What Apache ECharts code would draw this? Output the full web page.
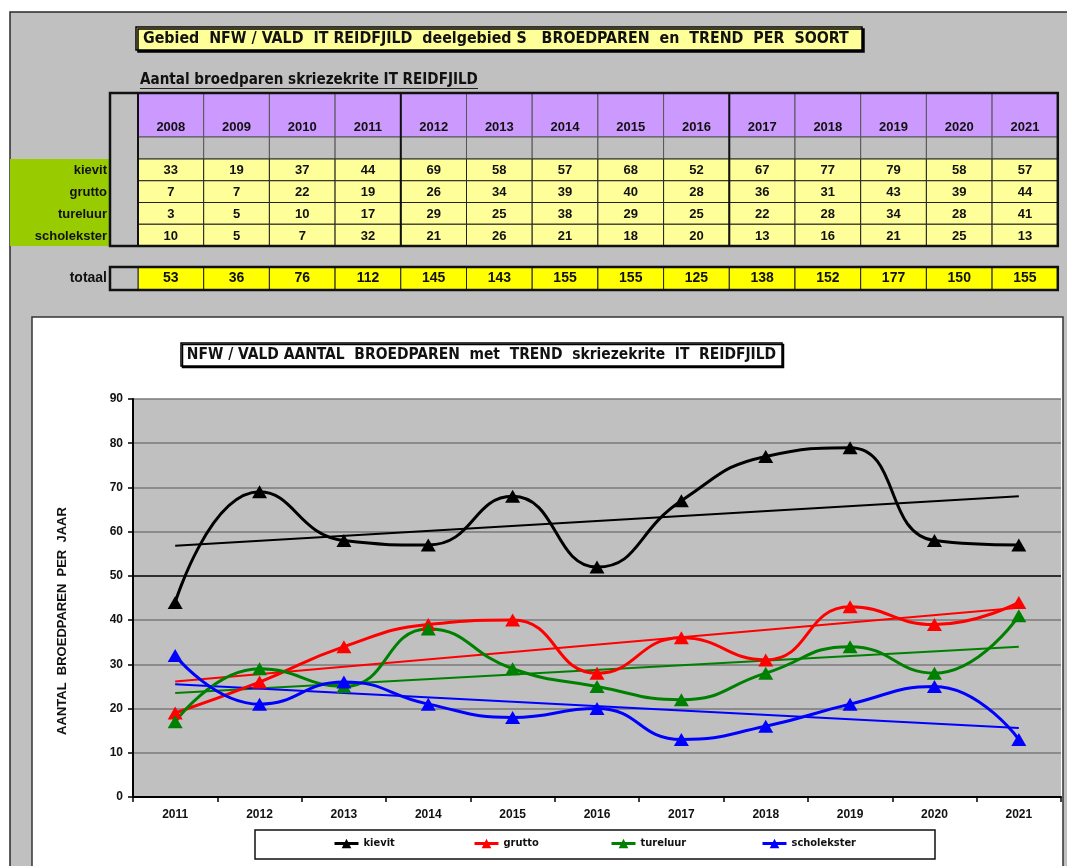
<!DOCTYPE html>
<html>
<head>
<meta charset="utf-8">
<script src="https://cdn.jsdelivr.net/npm/echarts@6/dist/echarts.min.js"></script>
<style>
html,body{margin:0;padding:0;background:#fff;}
#c{width:1067px;height:866px;}
</style>
</head>
<body>
<div id="c"></div>
<script>
// ---------- DATA ----------
const years = ['2008','2009','2010','2011','2012','2013','2014','2015','2016','2017','2018','2019','2020','2021'];
const speciesNames = ['kievit','grutto','tureluur','scholekster'];
const kievit      = [33,19,37,44,69,58,57,68,52,67,77,79,58,57];
const grutto      = [7,7,22,19,26,34,39,40,28,36,31,43,39,44];
const tureluur    = [3,5,10,17,29,25,38,29,25,22,28,34,28,41];
const scholekster = [10,5,7,32,21,26,21,18,20,13,16,21,25,13];
const totaal      = [53,36,76,112,145,143,155,155,125,138,152,177,150,155];
const chartStart  = 3; // chart shows 2011..2021
// trend line end values (2011, 2021)
const kievitTrend      = [56.8, 68.0];
const gruttoTrend      = [26.1, 42.8];
const tureluurTrend    = [23.5, 34.0];
const scholeksterTrend = [25.5, 15.6];
const yTicks = [0,10,20,30,40,50,60,70,80,90];

const mainTitle  = 'Gebied  NFW / VALD  IT REIDFJILD  deelgebied S   BROEDPAREN  en  TREND  PER  SOORT';
const subTitle   = 'Aantal broedparen skriezekrite IT REIDFJILD';
const chartTitle = 'NFW / VALD AANTAL  BROEDPAREN  met  TREND  skriezekrite  IT  REIDFJILD';
const yName      = 'AANTAL  BROEDPAREN  PER  JAAR';
const totalLabel = 'totaal';

// ---------- LAYOUT ----------
const FN  = "'Liberation Sans', Arial, sans-serif";
const FNN = "'Liberation Sans Narrow', 'Arial Narrow', 'DejaVu Sans Condensed', sans-serif";
const cv = document.createElement('canvas').getContext('2d');
function fit(text, weight, family, target){
  cv.font = weight + ' 100px ' + family;
  return 100 * target / cv.measureText(text).width;
}
function txt(x, y, text, size, family, align, extra){
  return Object.assign({type:'text', z:-7, x:x, y:y,
    style:{text:text, fontSize:size, fontWeight:'bold', fontFamily:family, fill:'#111',
           align:align || 'center', verticalAlign:'middle'}}, extra || {});
}

const series = [kievit, grutto, tureluur, scholekster];
const trends = [kievitTrend, gruttoTrend, tureluurTrend, scholeksterTrend];
const colors = ['#000000','#ff0000','#008000','#0000ff'];
const chartYears = years.slice(chartStart);

const G = [];
// page frame
G.push({type:'rect', z:-20, shape:{x:10,y:12,width:1080,height:880}, style:{fill:'#c0c0c0', stroke:'#2a2a2a', lineWidth:1.5}});

// main title box
G.push({type:'rect', z:-10, shape:{x:136,y:27,width:726,height:23},
  style:{fill:'#ffff99', stroke:'#000', lineWidth:1.5, shadowColor:'#000', shadowOffsetX:2, shadowOffsetY:2, shadowBlur:0}});
G.push(txt(143, 39, mainTitle, fit(mainTitle,'bold',FNN,706), FNN, 'left'));

// sub title with underline
G.push(txt(140, 80, subTitle, fit(subTitle,'bold',FNN,338), FNN, 'left'));
G.push({type:'line', z:-9, shape:{x1:140,y1:88.5,x2:478,y2:88.5}, style:{stroke:'#222', lineWidth:1}});

// table
const X0 = 138, CW = 65.7, TX1 = X0 + CW*years.length;
const HY = 93, HH = 44, GY = 137, GH = 22, DY = 159, RH = 21.75;
// green label block
G.push({type:'rect', z:-9, shape:{x:10,y:DY,width:100,height:RH*4}, style:{fill:'#99cc00'}});
// left gray column
G.push({type:'rect', z:-9, shape:{x:110,y:HY,width:X0-110,height:DY+RH*4-HY}, style:{fill:'#c0c0c0', stroke:'#333', lineWidth:1}});
years.forEach((yr,i)=>{
  const x = X0 + i*CW;
  G.push({type:'rect', z:-8, shape:{x:x,y:HY,width:CW,height:HH}, style:{fill:'#cc99ff', stroke:'#555', lineWidth:1}});
  G.push(txt(x+CW/2, 127, yr, 13, FN));
  G.push({type:'rect', z:-8, shape:{x:x,y:GY,width:CW,height:GH}, style:{fill:'#c0c0c0', stroke:'#555', lineWidth:1}});
  series.forEach((arr,j)=>{
    const y = DY + j*RH;
    G.push({type:'rect', z:-8, shape:{x:x,y:y,width:CW,height:RH}, style:{fill:'#ffff99', stroke:'#222', lineWidth:1}});
    G.push(txt(x+CW/2, y+RH/2+1, String(arr[i]), 13, FN));
  });
  // totals
  G.push({type:'rect', z:-8, shape:{x:x,y:267,width:CW,height:23}, style:{fill:'#ffff00', stroke:'#222', lineWidth:1}});
  G.push(txt(x+CW/2, 278, String(totaal[i]), 14, FN));
});
speciesNames.forEach((nm,j)=>{
  G.push(txt(107, DY + j*RH + RH/2 + 1, nm, 13, FN, 'right'));
});
// thick borders
G.push({type:'rect', z:-6, shape:{x:110,y:HY,width:TX1-110,height:DY+RH*4-HY}, style:{fill:null, stroke:'#111', lineWidth:2.5}});
[0,4,9].forEach(k=>{
  G.push({type:'line', z:-6, shape:{x1:X0+k*CW,y1:HY,x2:X0+k*CW,y2:DY+RH*4}, style:{stroke:'#111', lineWidth:2}});
});
// totals row
G.push({type:'rect', z:-8, shape:{x:110,y:267,width:X0-110,height:23}, style:{fill:'#c0c0c0', stroke:'#222', lineWidth:1}});
G.push({type:'rect', z:-6, shape:{x:110,y:267,width:TX1-110,height:23}, style:{fill:null, stroke:'#111', lineWidth:2.5}});
G.push(txt(107, 278, totalLabel, 14, FN, 'right'));

// chart white box
G.push({type:'rect', z:-10, shape:{x:32,y:317,width:1031,height:600}, style:{fill:'#ffffff', stroke:'#333', lineWidth:1.5}});
// chart title box
G.push({type:'rect', z:-9, shape:{x:181,y:343,width:601,height:23},
  style:{fill:'#fff', stroke:'#000', lineWidth:1.5, shadowColor:'#000', shadowOffsetX:1.5, shadowOffsetY:1.5, shadowBlur:0}});
G.push(txt(481.5, 355, chartTitle, fit(chartTitle,'bold',FNN,590), FNN, 'center', {z:-8}));
// y axis name
G.push(txt(62, 621, yName, Math.min(13, fit(yName,'bold',FN,242)), FN, 'center', {z:5, rotation:Math.PI/2}));
// legend box
G.push({type:'rect', z:-5, shape:{x:255,y:830,width:680,height:29}, style:{fill:'#fff', stroke:'#111', lineWidth:1.5}});

// ---------- CHART ----------
const lineSeries = [];
speciesNames.forEach((nm,j)=>{
  const t = trends[j];
  lineSeries.push({
    name: nm + ' trend', type:'line', silent:true, symbol:'none', z:2,
    data: [[chartYears[0], t[0]], [chartYears[chartYears.length-1], t[1]]],
    lineStyle:{color:colors[j], width:2}, itemStyle:{color:colors[j]}
  });
});
speciesNames.forEach((nm,j)=>{
  lineSeries.push({
    name: nm, type:'line', smooth:0.5, smoothMonotone:'none', z:3,
    data: series[j].slice(chartStart),
    symbol:'triangle', symbolSize:[15,13],
    lineStyle:{color:colors[j], width:3}, itemStyle:{color:colors[j]}
  });
});

const gridColors = yTicks.map(v => v === 50 ? '#000000' : '#7a7a7a');
const legendLeft = [333, 473, 610, 761];
const legends = speciesNames.map((nm,j)=>({
  data:[nm], left:legendLeft[j], top:838, padding:0,
  itemWidth:24, itemHeight:12, lineStyle:{width:3},
  textStyle:{color:'#111', fontWeight:'bold', fontSize:11, fontFamily:FNN},
  selectedMode:false
}));

const chart = echarts.init(document.getElementById('c'), null, {renderer:'canvas'});
chart.setOption({
  animation:false,
  backgroundColor:'#ffffff',
  graphic: G,
  grid:{left:133, right:6, top:399, bottom:69, show:true, backgroundColor:'#c0c0c0', borderWidth:0},
  xAxis:{
    type:'category', data: chartYears, boundaryGap:true,
    axisLine:{lineStyle:{color:'#000', width:2}},
    axisTick:{show:true, alignWithLabel:false, length:5, lineStyle:{color:'#000', width:1.5}},
    axisLabel:{color:'#111', fontWeight:'bold', fontSize:12, fontFamily:FN, margin:12},
    splitLine:{show:false}
  },
  yAxis:{
    type:'value', min:0, max:90, interval:10,
    axisLine:{show:true, lineStyle:{color:'#000', width:2}},
    axisTick:{show:true, length:5, lineStyle:{color:'#000', width:1.5}},
    axisLabel:{color:'#111', fontWeight:'bold', fontSize:12, fontFamily:FN, margin:10},
    splitLine:{show:true, lineStyle:{color:gridColors, width:1.5}}
  },
  legend: legends,
  series: lineSeries
});
</script>
</body>
</html>
